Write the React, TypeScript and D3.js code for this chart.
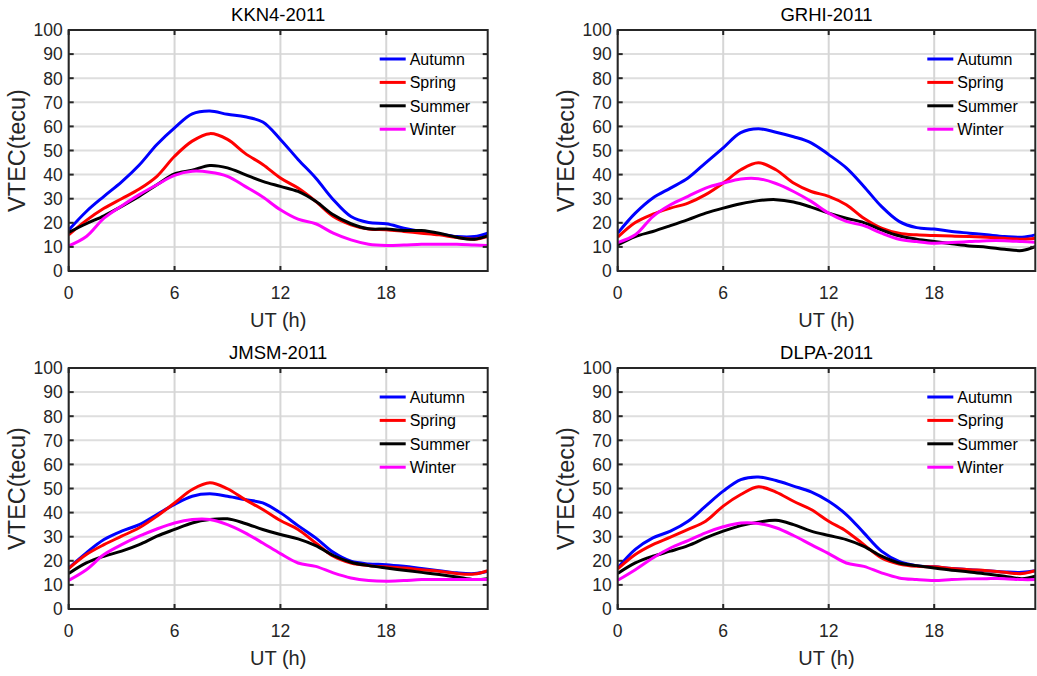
import React from "react";
import * as d3 from "d3";

const HOURS = [0, 1, 2, 3, 4, 5, 6, 7, 8, 9, 10, 11, 12, 13, 14, 15, 16, 17, 18, 19, 20, 21, 22, 23, 23.75];
const SEASONS = ["Autumn", "Spring", "Summer", "Winter"];
const COLORS = ["#0000ff", "#ff0000", "#000000", "#ff00ff"];
const Y_TICKS = [0, 10, 20, 30, 40, 50, 60, 70, 80, 90, 100];
const X_TICKS = [0, 6, 12, 18];
const STATIONS = ["KKN4-2011", "GRHI-2011", "JMSM-2011", "DLPA-2011"];

const KKN4_AUTUMN = [17, 24.7, 31, 37, 44, 52.5, 59.4, 65.2, 66.4, 65, 64, 61.8, 54.6, 46.3, 38.6, 29.6, 22.6, 20.1, 19.6, 17.8, 16.4, 15.4, 14.3, 14.3, 15.7];
const KKN4_SPRING = [15, 21, 26, 30, 34, 39.3, 47.6, 53.9, 57, 54.6, 48.8, 44.2, 38.6, 34.4, 28.9, 22.6, 19.2, 17.4, 17.1, 16.4, 15.7, 15, 13.9, 13.2, 14.3];
const KKN4_SUMMER = [16, 19.6, 22.9, 26.8, 31, 35.8, 40.3, 41.8, 43.8, 42.8, 40, 37.2, 35.1, 33, 28.9, 23.3, 19.6, 17.5, 17.4, 16.8, 16.8, 15.7, 14, 13.2, 14.6];
const KKN4_WINTER = [10.4, 14.3, 21.9, 27, 31.7, 35.8, 39.7, 41.4, 41, 39.3, 35.1, 30.7, 25.4, 21.5, 19.6, 15.7, 12.9, 11.1, 10.6, 10.8, 11.1, 11.1, 11.1, 10.8, 10.6];

const GRHI_AUTUMN = [15.7, 24, 30.3, 34.4, 38.6, 44.9, 51.1, 57.4, 59, 57.6, 55.7, 53.2, 48.3, 42.8, 35.1, 26.8, 20.6, 18, 17.4, 16.4, 15.7, 15, 14.3, 14, 15];
const GRHI_SPRING = [14, 20.1, 23.6, 26.1, 28.2, 31.7, 36.5, 42, 44.9, 42, 36.5, 33, 31, 27.5, 21.9, 17.8, 15.7, 15, 14.7, 14.5, 14.3, 14, 13.6, 13.2, 13.6];
const GRHI_SUMMER = [10.8, 14.3, 16.4, 18.8, 21.3, 24, 26.1, 27.9, 29.2, 29.6, 28.6, 26.5, 24, 21.9, 20.1, 17.1, 14.6, 13.2, 12.2, 11.3, 10.4, 9.9, 9, 8.5, 10.1];
const GRHI_WINTER = [11.8, 15, 22.6, 27.5, 31, 34.4, 36.5, 38.2, 38.3, 36.3, 33, 28.9, 24, 20.6, 18.8, 15.7, 13.2, 12.2, 11.5, 11.8, 12.2, 12.6, 12.6, 12.2, 11.9];

const JMSM_AUTUMN = [17, 23.3, 28.8, 32.3, 35, 39.2, 43.4, 46.8, 47.8, 46.8, 45.4, 44, 39.9, 34.6, 29.5, 23.5, 19.8, 18.7, 18.4, 17.7, 16.8, 15.9, 15, 14.7, 15.7];
const JMSM_SPRING = [16.8, 22.6, 26.7, 30.2, 33.7, 38.5, 44, 49.6, 52.4, 49.9, 45.4, 41.3, 36.7, 33, 27.4, 21.9, 19.1, 18, 17.5, 17, 16.3, 15.7, 14.7, 14.5, 15.9];
const JMSM_SUMMER = [14.7, 19.1, 21.9, 24, 26.7, 30.2, 33, 35.7, 37.1, 37.4, 35.5, 33, 30.9, 29.1, 26.3, 22.2, 19.4, 18, 17, 16.1, 15.2, 14.3, 13.3, 12.2, 12.6];
const JMSM_WINTER = [11.9, 16.3, 22.6, 26.7, 30.2, 33.2, 35.7, 37.1, 37.1, 35, 31.6, 27.4, 23, 19.1, 17.7, 15, 12.9, 11.8, 11.5, 11.8, 12.2, 12.2, 12.2, 12.2, 12.2];

const DLPA_AUTUMN = [17, 24.7, 29.5, 32.3, 36.4, 42.7, 48.9, 53.7, 54.8, 53.3, 51, 48.6, 44.7, 39.2, 31.6, 24, 19.8, 18, 17.5, 16.8, 16.3, 15.9, 15.4, 15.2, 15.9];
const DLPA_SPRING = [16.6, 22.6, 26.7, 29.8, 33, 36.4, 42.7, 47.5, 50.7, 48.5, 44.7, 41.3, 36.4, 32.3, 26.7, 21.2, 18.7, 17.7, 17.5, 16.8, 16.3, 15.9, 15.2, 14.7, 15.9];
const DLPA_SUMMER = [14.7, 19.1, 21.9, 24, 26.3, 29.5, 32.3, 34.6, 36, 36.8, 35, 32.3, 30.5, 28.8, 26, 21.9, 19.1, 18, 17, 16.1, 15.4, 14.5, 13.6, 12.6, 13.6];
const DLPA_WINTER = [11.9, 16.3, 21.2, 25.3, 28.4, 31.6, 34.1, 35.7, 35.5, 33.7, 30.5, 26.7, 23, 19.1, 17.7, 15, 12.9, 12.2, 11.8, 12.2, 12.5, 12.6, 12.6, 12.2, 12.2];

const PANEL_SERIES = [
  [KKN4_AUTUMN, KKN4_SPRING, KKN4_SUMMER, KKN4_WINTER],
  [GRHI_AUTUMN, GRHI_SPRING, GRHI_SUMMER, GRHI_WINTER],
  [JMSM_AUTUMN, JMSM_SPRING, JMSM_SUMMER, JMSM_WINTER],
  [DLPA_AUTUMN, DLPA_SPRING, DLPA_SUMMER, DLPA_WINTER],
];

const LEFTS = [68.7, 617.7];
const RIGHTS = [487.7, 1035.3];
const TOPS = [30, 368];
const BOTTOMS = [271, 609];
const FONT = "'Liberation Sans', Arial, Helvetica, sans-serif";
const AXIS_COLOR = "#262626";

function Panel({ idx }: { idx: number }) {
  const col = idx % 2;
  const row = Math.floor(idx / 2);
  const L = LEFTS[col], R = RIGHTS[col], T = TOPS[row], B = BOTTOMS[row];
  const x = d3.scaleLinear().domain([0, 23.75]).range([L, R]);
  const y = d3.scaleLinear().domain([0, 100]).range([B, T]);
  const line = d3
    .line<number>()
    .x((_, i) => x(HOURS[i]))
    .y((v) => y(v))
    .curve(d3.curveCatmullRom.alpha(0.5));
  const clipId = `clip${idx}`;
  const tickLen = 5;
  return (
    <g>
      <defs>
        <clipPath id={clipId}>
          <rect x={L} y={T} width={R - L} height={B - T} />
        </clipPath>
      </defs>
      {Y_TICKS.map((t) => (
        <line key={"gy" + t} x1={L} x2={R} y1={y(t)} y2={y(t)} stroke="#dedede" strokeWidth={2} />
      ))}
      {X_TICKS.map((t) => (
        <line key={"gx" + t} x1={x(t)} x2={x(t)} y1={T} y2={B} stroke="#d6d6d6" strokeWidth={2} />
      ))}
      <g clipPath={`url(#${clipId})`}>
        {PANEL_SERIES[idx].map((s, i) => (
          <path key={SEASONS[i]} d={line(s) || ""} fill="none" stroke={COLORS[i]} strokeWidth={3} strokeLinejoin="round" />
        ))}
      </g>
      {Y_TICKS.map((t) => (
        <g key={"ty" + t}>
          <line x1={L} x2={L + tickLen} y1={y(t)} y2={y(t)} stroke={AXIS_COLOR} strokeWidth={2} />
          <line x1={R} x2={R - tickLen} y1={y(t)} y2={y(t)} stroke={AXIS_COLOR} strokeWidth={2} />
          <text x={L - 6} y={y(t)} dy="0.36em" textAnchor="end" fontSize={17.5} fill={AXIS_COLOR} fontFamily={FONT}>
            {t}
          </text>
        </g>
      ))}
      {X_TICKS.map((t) => (
        <g key={"tx" + t}>
          <line x1={x(t)} x2={x(t)} y1={B} y2={B - tickLen} stroke={AXIS_COLOR} strokeWidth={2} />
          <line x1={x(t)} x2={x(t)} y1={T} y2={T + tickLen} stroke={AXIS_COLOR} strokeWidth={2} />
          <text x={x(t)} y={B + 28} textAnchor="middle" fontSize={17.5} fill={AXIS_COLOR} fontFamily={FONT}>
            {t}
          </text>
        </g>
      ))}
      <rect x={L} y={T} width={R - L} height={B - T} fill="none" stroke={AXIS_COLOR} strokeWidth={2} />
      <text x={(L + R) / 2} y={T - 9} textAnchor="middle" fontSize={18.5} fill="#000" fontFamily={FONT}>
        {STATIONS[idx]}
      </text>
      <text x={(L + R) / 2} y={B + 56} textAnchor="middle" fontSize={20} fill={AXIS_COLOR} fontFamily={FONT}>
        UT (h)
      </text>
      <text
        transform={`translate(${L - 44},${(T + B) / 2}) rotate(-90)`}
        textAnchor="middle"
        fontSize={23.5}
        fill={AXIS_COLOR}
        fontFamily={FONT}
      >
        VTEC(tecu)
      </text>
      {SEASONS.map((s, i) => {
        const ly = T + 29 + i * 23.4;
        return (
          <g key={"lg" + s}>
            <line x1={R - 108} x2={R - 82} y1={ly} y2={ly} stroke={COLORS[i]} strokeWidth={3} />
            <text x={R - 78} y={ly} dy="0.36em" fontSize={16} fill="#000" fontFamily={FONT}>
              {s}
            </text>
          </g>
        );
      })}
    </g>
  );
}

export default function App() {
  return (
    <svg width={1037} height={676} style={{ position: "absolute", left: 0, top: 0, background: "#fff" }}>
      <rect x={0} y={0} width={1037} height={676} fill="#fff" />
      {[0, 1, 2, 3].map((i) => (
        <Panel key={i} idx={i} />
      ))}
    </svg>
  );
}
